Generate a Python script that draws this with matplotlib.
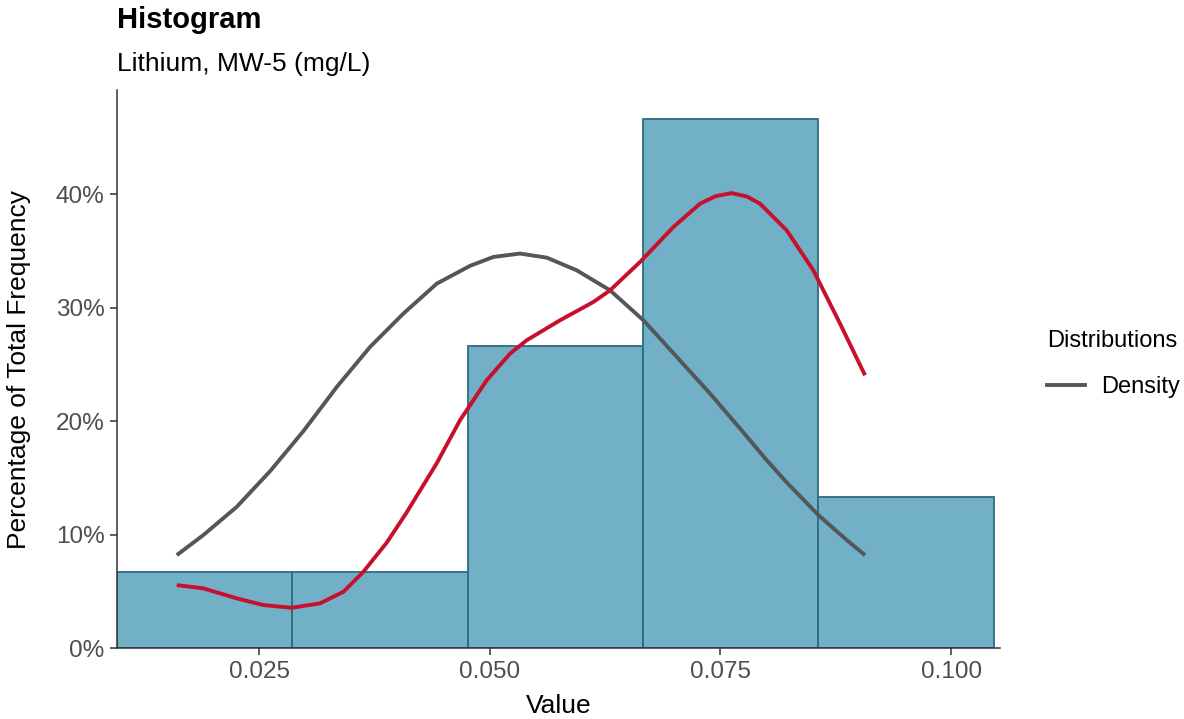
import matplotlib
matplotlib.use("Agg")
import matplotlib.pyplot as plt
from matplotlib.lines import Line2D

plt.rcParams['font.family'] = ['Liberation Sans', 'DejaVu Sans']

# histogram bins (left edges, width) and percentage of total frequency
bin_left = [0.0096, 0.0286, 0.0476, 0.0666, 0.0856]
bin_width = 0.019
bin_pct = [6.67, 6.67, 26.67, 46.67, 13.33]

# normal density curve (scaled to %)
norm_x = [0.01608, 0.01896, 0.02258, 0.02619, 0.0298, 0.03342, 0.03703,
          0.04064, 0.04426, 0.04787, 0.05039, 0.05328, 0.05618, 0.05943,
          0.06304, 0.06665, 0.07027, 0.07387, 0.07712, 0.08002, 0.08219,
          0.08561, 0.08869, 0.09067]
norm_y = [8.19, 9.96, 12.45, 15.59, 19.12, 23.02, 26.55,
          29.49, 32.13, 33.7, 34.48, 34.78, 34.42, 33.3,
          31.54, 28.9, 25.67, 22.44, 19.36, 16.56, 14.6,
          11.72, 9.52, 8.19]

# kernel density curve (scaled to %)
kde_x = [0.01608, 0.01896, 0.02258, 0.02547, 0.02854, 0.03161, 0.03414, 0.0363,
         0.03884, 0.04093, 0.04426, 0.04678, 0.04967, 0.0522, 0.05401, 0.05762,
         0.06123, 0.06304, 0.06629, 0.0699, 0.07279, 0.0745, 0.07622, 0.0779,
         0.07929, 0.08218, 0.08507, 0.08796, 0.09067]
kde_y = [5.55, 5.26, 4.38, 3.79, 3.55, 3.94, 4.96, 6.72,
         9.3, 11.87, 16.3, 20.09, 23.61, 25.96, 27.14, 28.9,
         30.51, 31.54, 34.04, 37.12, 39.18, 39.85, 40.11, 39.8,
         39.18, 36.83, 33.3, 28.61, 24.05]

xticks = [0.025, 0.050, 0.075, 0.100]
xtick_labels = ['0.025', '0.050', '0.075', '0.100']
yticks = [0, 10, 20, 30, 40]
ytick_labels = ['0%', '10%', '20%', '30%', '40%']

fig = plt.figure(figsize=(11.84, 7.19), dpi=100)
ax = fig.add_axes([0.0988, 0.0987, 0.7458, 0.7761])

ax.bar(bin_left, bin_pct, width=bin_width, align='edge',
       color='#71B0C6', edgecolor='#2F6B80', linewidth=1.3, zorder=1)
ax.plot(norm_x, norm_y, color='#54575A', linewidth=2.8, zorder=3,
        solid_joinstyle='round', solid_capstyle='butt')
ax.plot(kde_x, kde_y, color='#C8102E', linewidth=2.8, zorder=3,
        solid_joinstyle='round', solid_capstyle='butt')

ax.set_xlim(0.0096, 0.1053)
ax.set_ylim(0, 49.2)
ax.set_xticks(xticks)
ax.set_xticklabels(xtick_labels)
ax.set_yticks(yticks)
ax.set_yticklabels(ytick_labels)
ax.tick_params(labelsize=17.5, colors='#333333', labelcolor='#4D4D4D',
               length=5, width=1.1, pad=4)

for side in ['top', 'right']:
    ax.spines[side].set_visible(False)
for side in ['left', 'bottom']:
    ax.spines[side].set_color('#333333')
    ax.spines[side].set_linewidth(1.1)

ax.set_xlabel('Value', fontsize=19, labelpad=8)
ax.set_ylabel('Percentage of Total Frequency', fontsize=19, labelpad=18)

fig.text(117 / 1184, 1 - 28 / 719, 'Histogram', fontsize=21, fontweight='bold',
         ha='left', va='baseline')
fig.text(117 / 1184, 1 - 71 / 719, 'Lithium, MW-5 (mg/L)', fontsize=19,
         ha='left', va='baseline')

handle = Line2D([], [], color='#54575A', linewidth=2.8)
leg = fig.legend(handles=[handle], labels=['Density'], title='Distributions',
                 loc='center left', bbox_to_anchor=(1047 / 1184, 1 - 364 / 719),
                 frameon=False, fontsize=17, title_fontsize=17,
                 borderpad=0, borderaxespad=0,
                 handlelength=1.6, handletextpad=0.68, labelspacing=1.0)
leg._legend_box.align = 'left'

fig.savefig('out.png', dpi=100)
